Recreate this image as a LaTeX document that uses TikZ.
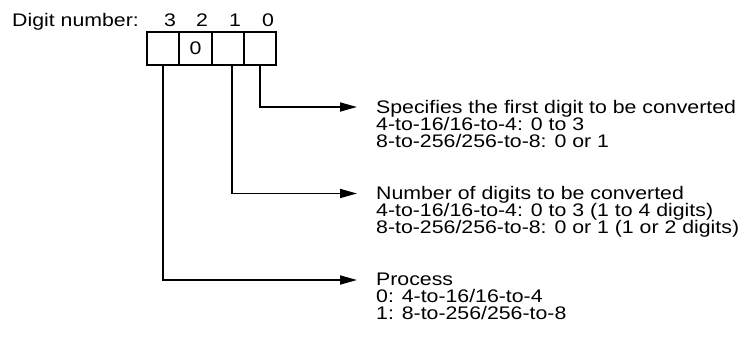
\documentclass[tikz,border=0pt]{standalone}
\usepackage{fontspec}
\setmainfont{Liberation Sans}[FakeStretch=1.17]
\usetikzlibrary{arrows.meta,positioning}

\tikzset{
  cell/.style={draw, line width=1.8pt, minimum width=32.3pt, minimum height=33pt, inner sep=0pt, outer sep=0pt},
  conn/.style={line width=1.8pt, -{Triangle[length=17pt,width=9pt]}},
  desc/.style={align=left, inner sep=0pt, anchor=north west}
}

\begin{document}
\begin{tikzpicture}[x=1pt,y=-1pt,font=\fontsize{18.2}{17}\selectfont]
            \useasboundingbox (0,0) rectangle (740,337);
            \node[anchor=base west, inner sep=0pt] (dn) at (12,27) {Digit number:};
            \node[cell] (c3) at (163.2,48.5) {};
            \node[cell, right=0pt of c3] (c2) {0};
            \node[cell, right=0pt of c2] (c1) {};
            \node[cell, right=0pt of c1] (c0) {};
            \node[anchor=base, inner sep=0pt] (d3) at (170,27) {3};
            \node[anchor=base, inner sep=0pt] (d2) at (202,27) {2};
            \node[anchor=base, inner sep=0pt] (d1) at (235,27) {1};
            \node[anchor=base, inner sep=0pt] (d0) at (268,27) {0};
            \node[desc] (t0) at (376,100) {Specifies the first digit to be converted\\4-to-16/16-to-4: 0 to 3\\8-to-256/256-to-8: 0 or 1};
            \node[desc] (t1) at (376,186.5) {Number of digits to be converted\\4-to-16/16-to-4: 0 to 3 (1 to 4 digits)\\8-to-256/256-to-8: 0 or 1 (1 or 2 digits)};
            \node[desc] (t3) at (376,273) {Process\\0: 4-to-16/16-to-4\\1: 8-to-256/256-to-8};
            \draw[conn] (c0.south) |- ([xshift=-19pt,yshift=-7pt]t0.north west);
            \draw[conn] ([xshift=4pt]c1.south) |- ([xshift=-19pt,yshift=-7pt]t1.north west);
            \draw[conn] (c3.south) |- ([xshift=-19pt,yshift=-7pt]t3.north west);
        \end{tikzpicture}
\end{document}
